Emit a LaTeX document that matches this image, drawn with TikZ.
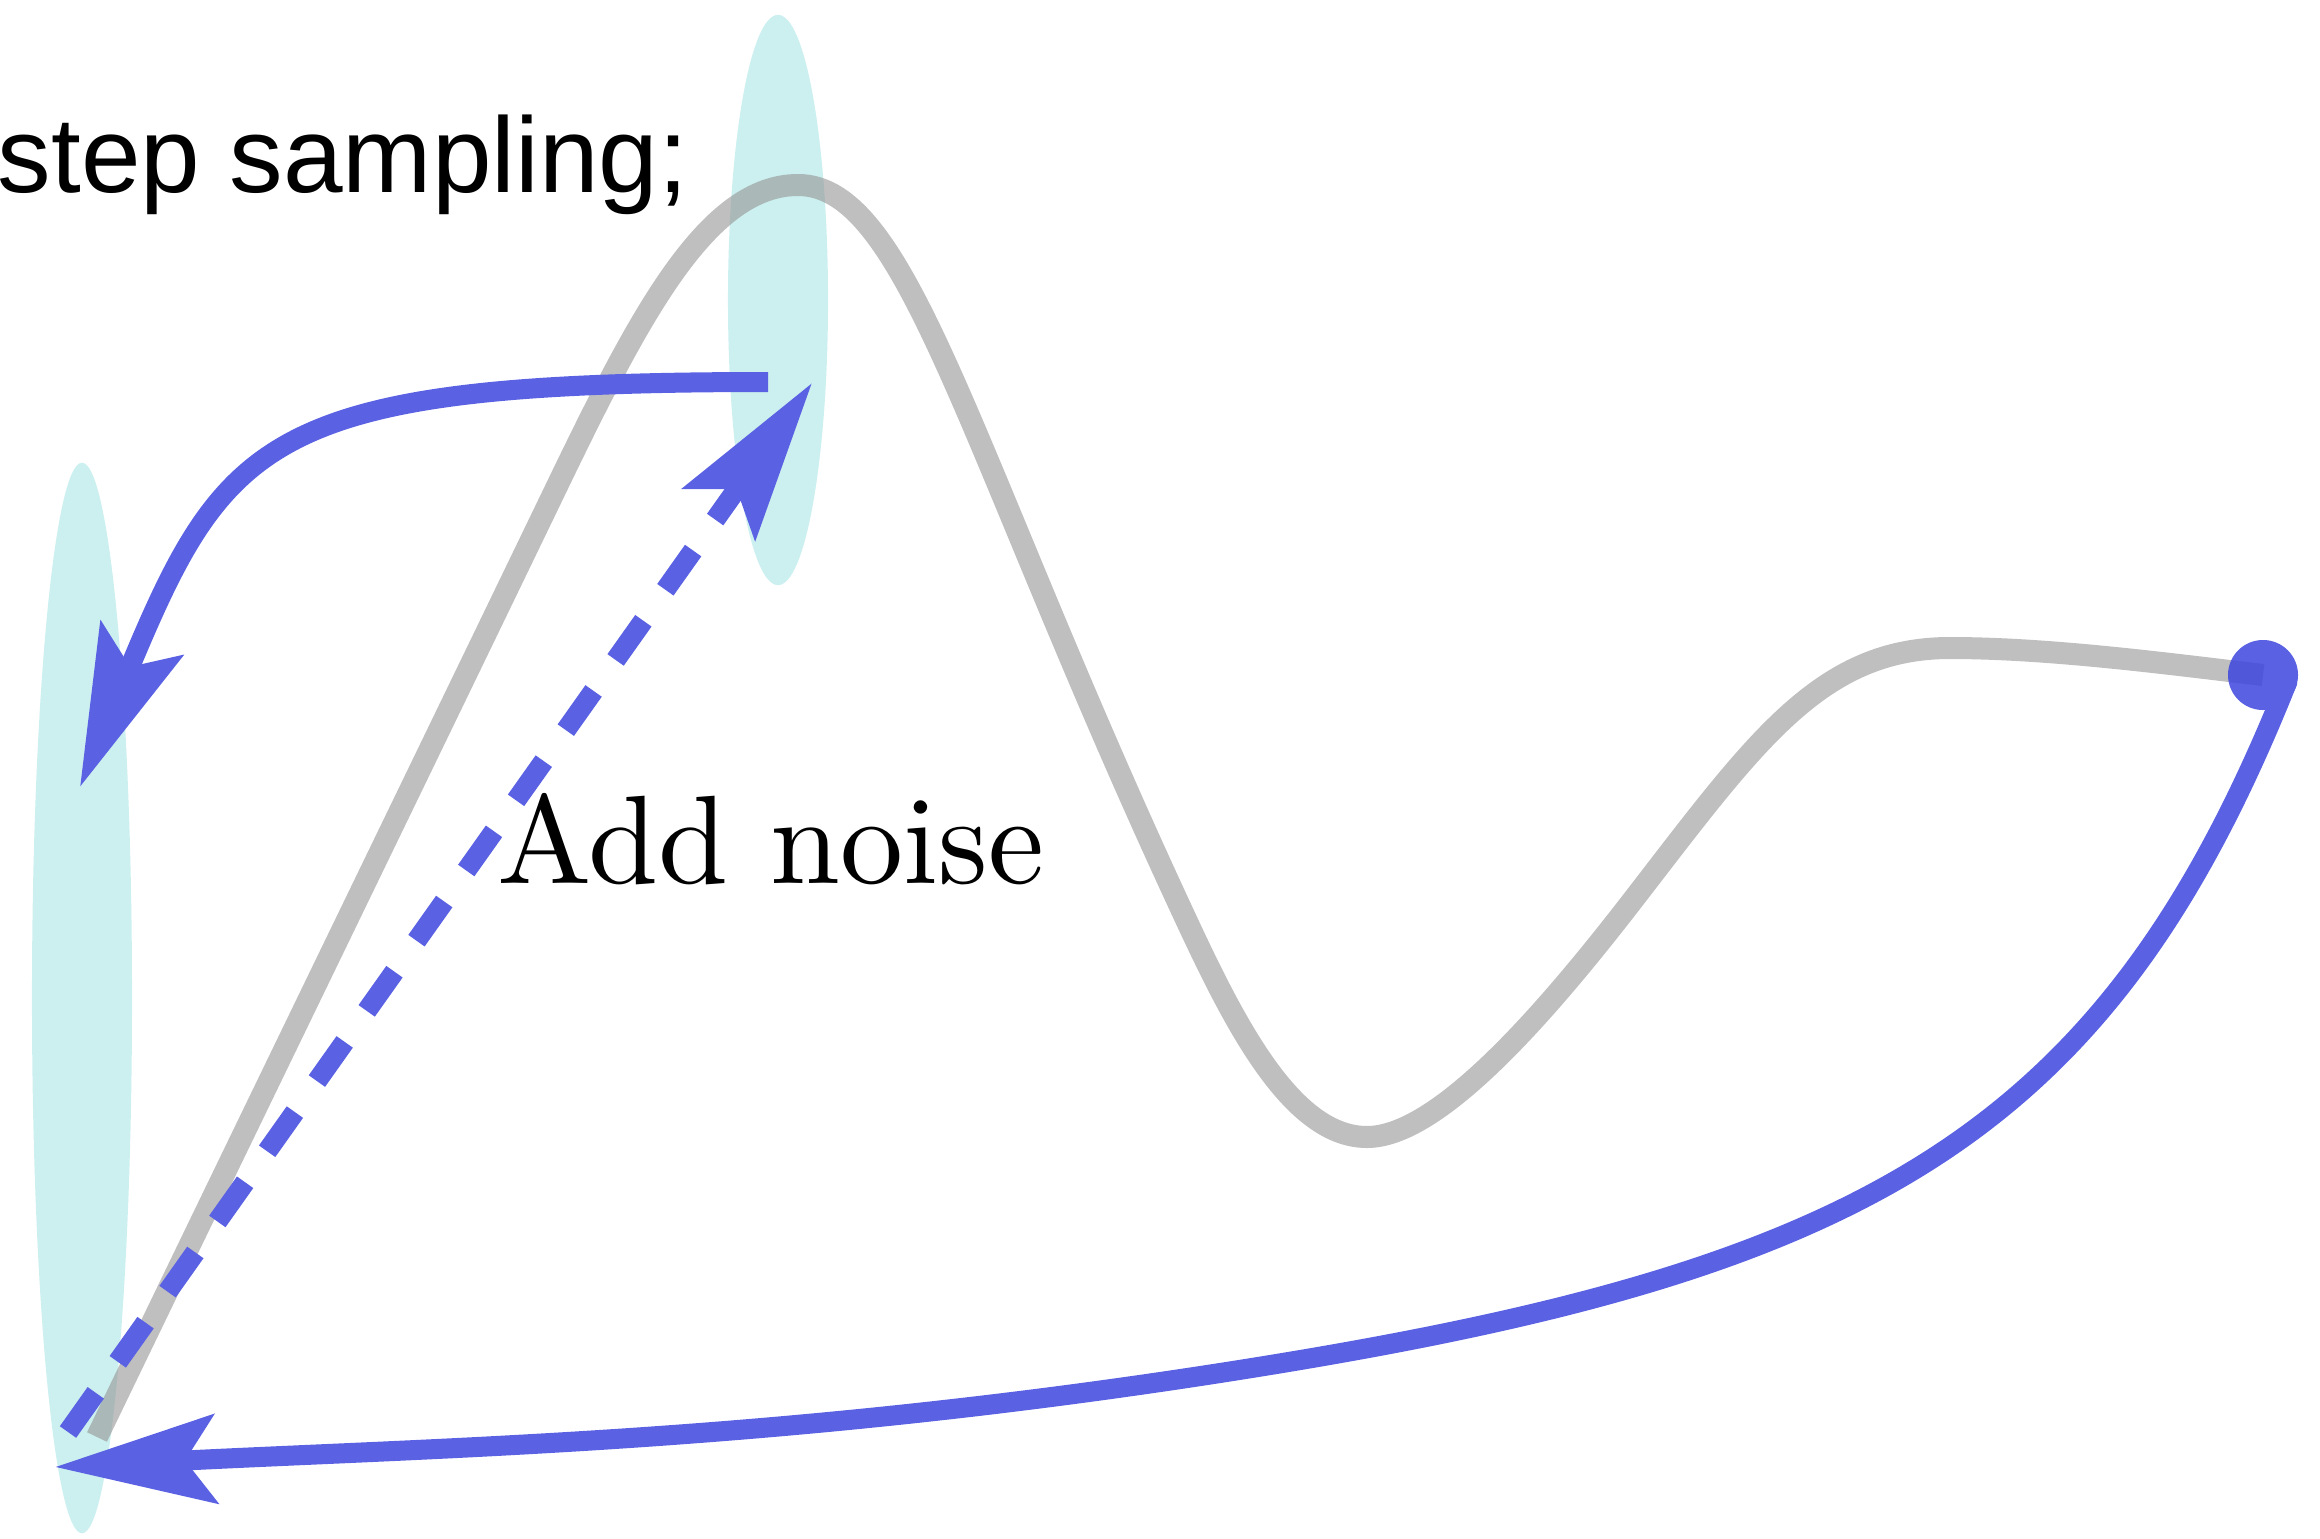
\documentclass[tikz,border=0pt]{standalone}
\usepackage{fontspec}
\newfontfamily\arialfont{Liberation Sans}
\usetikzlibrary{arrows.meta,shapes.geometric}
\definecolor{cyanfill}{RGB}{204,239,239}
\definecolor{graycurve}{RGB}{148,148,148}
\definecolor{bluearrow}{RGB}{90,98,227}
\definecolor{bluedot}{RGB}{61,70,222}
\tikzset{
  halo/.style={ellipse, fill=cyanfill, draw=none, inner sep=0pt, minimum width=1cm},
  grayline/.style={draw=graycurve, draw opacity=0.6, line width=0.22cm},
  blueline/.style={draw=bluearrow, line width=0.2cm},
  bigtip/.style={-{Stealth[length=1.6cm, width=0.88cm, inset=0.3cm]}},
  dashline/.style={dash pattern=on 0.48cm off 0.38cm},
}
\begin{document}
\begin{tikzpicture}[x=0.01cm, y=-0.01cm]
\useasboundingbox (0,0) rectangle (2320,1539);
% cyan halos
\node[halo, minimum height=5.7cm] (htop) at (778,300) {};
\node[halo, minimum height=10.7cm] (hleft) at (82,998) {};
% gray curve points
\coordinate (g0) at (97,1437);
\coordinate (g1) at (560,480);
\coordinate (g2) at (798,185);
\coordinate (g3) at (1177,900);
\coordinate (g4) at (1367,1137);
\coordinate (g5) at (1633,900);
\coordinate (g6) at (1950,648);
\coordinate (dotc) at (2263,675);
\draw[grayline] (g0) .. controls (250,1120) and (420,770) .. (g1)
  .. controls (640.5,313.5) and (708,185) .. (g2)
  .. controls (908,185) and (967,446.5) .. (g3)
  .. controls (1227.4,1008.8) and (1287,1137) .. (g4)
  .. controls (1437,1137) and (1541.5,1018.5) .. (g5)
  .. controls (1755,742) and (1820,648) .. (g6)
  .. controls (2050,648) and (2170,664) .. (dotc);
% end dot
\node[circle, fill=bluedot, fill opacity=0.85, inner sep=0pt, minimum size=0.7cm] (dot) at (dotc) {};
% top curved arrow
\coordinate (t0) at (768,382);
\coordinate (t1) at (80,787);
\draw[blueline, bigtip] (t0) .. controls (268,382) and (226,436) .. (t1);
% dashed arrow (add noise)
\coordinate (d0) at (68,1432);
\coordinate (d1) at (812,383);
\draw[blueline, dashline, bigtip] (d0) -- (d1);
% bottom long arrow
\coordinate (b0) at (2288,680);
\coordinate (b1) at (1220,1373);
\coordinate (b2) at (55,1467);
\draw[blueline, bigtip] (b0) .. controls (2103,1145) and (1858,1274) .. (b1)
  .. controls (775,1442) and (454,1447) .. (b2);
% texts
\node[anchor=base west, inner sep=0pt] (title) at (-3,192) {\arialfont\fontsize{30.45}{36}\selectfont step sampling;};
\node[anchor=base west, inner sep=0pt] (noise) at (497,883) {\scalebox{3.58}{\fontsize{10}{12}\selectfont Add noise}};
\end{tikzpicture}
\end{document}
